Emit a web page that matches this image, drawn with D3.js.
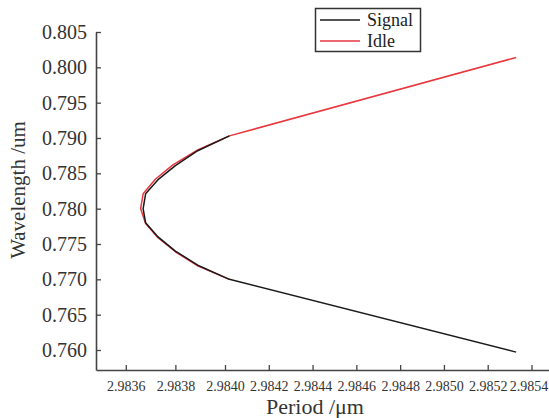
<!DOCTYPE html>
<html>
<head>
<meta charset="utf-8">
<script src="https://cdn.jsdelivr.net/npm/d3@7"></script>
<style>
    body { margin: 0; background: #fff; }
    svg { display: block; }
    svg text { font-family: "Liberation Serif", "Times New Roman", "DejaVu Serif", serif; }
</style>
</head>
<body>
<svg width="549" height="418"></svg>
<script>
// signal branch: [period (um), wavelength (um)]
const signal = [
    [2.98533, 0.7597], [2.98402, 0.7700], [2.98389, 0.7720], [2.98380, 0.7740],
    [2.98373, 0.7760], [2.98368, 0.7780], [2.98367, 0.7800], [2.98368, 0.7821],
    [2.98373, 0.7841], [2.98380, 0.7861], [2.98389, 0.7882], [2.98402, 0.7903]
];
const idle = [
    [2.98533, 0.8014], [2.98402, 0.7903], [2.98389, 0.7883], [2.98379, 0.7862],
    [2.98372, 0.7842], [2.98367, 0.7821], [2.98366, 0.7800], [2.98368, 0.7779],
    [2.98373, 0.7759], [2.98380, 0.7739], [2.98389, 0.7719], [2.98402, 0.7700]
];
const xTicks = [2.9836, 2.9838, 2.9840, 2.9842, 2.9844, 2.9846, 2.9848, 2.9850, 2.9852, 2.9854];
const yTicks = [0.760, 0.765, 0.770, 0.775, 0.780, 0.785, 0.790, 0.795, 0.800, 0.805];
const seriesNames = ['Signal', 'Idle'];
const seriesColors = ['#1a1a1a', '#e8373f'];

const svg = d3.select('svg'),
    axisColor = '#444';

// the source figure's x axis is not evenly spaced, so use a piecewise scale
const x = d3.scaleLinear()
    .domain([2.98348, 2.9840, 2.98548])
    .range([96, 225, 549]);

const y = d3.scaleLinear()
    .domain([0.75717, 0.805])
    .range([370, 32]);

const xAxis = svg.append('g')
    .attr('transform', 'translate(0,370)')
    .call(d3.axisBottom(x).tickValues(xTicks).tickFormat(d3.format('.4f'))
        .tickSizeInner(-5).tickSizeOuter(0).tickPadding(11));

const yAxis = svg.append('g')
    .attr('transform', 'translate(96,0)')
    .call(d3.axisLeft(y).tickValues(yTicks).tickFormat(d3.format('.3f'))
        .tickSizeInner(-5).tickSizeOuter(0).tickPadding(9));

[xAxis, yAxis].forEach(function (g) {
    g.attr('font-family', null);
    g.select('.domain').attr('stroke', axisColor).attr('stroke-width', 1.6);
    g.selectAll('.tick line').attr('stroke', axisColor).attr('stroke-width', 1.3);
    g.selectAll('.tick text').attr('fill', '#333');
});
xAxis.attr('font-size', 14);
yAxis.attr('font-size', 20);
// keep the last period label inside the frame
xAxis.selectAll('.tick text').filter(function (d) { return d === 2.9854; })
    .attr('dx', -3);

svg.append('text')
    .attr('x', 315)
    .attr('y', 414)
    .attr('text-anchor', 'middle')
    .attr('font-size', 22)
    .attr('fill', '#333')
    .text('Period /μm');

svg.append('text')
    .attr('transform', 'translate(25,190) rotate(-90)')
    .attr('text-anchor', 'middle')
    .attr('font-size', 21)
    .attr('fill', '#333')
    .text('Wavelength /um');

const line = d3.line()
    .x(function (d) { return x(d[0]); })
    .y(function (d) { return y(d[1]); });

// idle underneath, signal on top, as in the source figure
[idle, signal].forEach(function (data, i) {
    svg.append('path')
        .datum(data)
        .attr('fill', 'none')
        .attr('stroke', seriesColors[1 - i])
        .attr('stroke-width', 1.5)
        .attr('stroke-linejoin', 'round')
        .attr('d', line);
});

// legend
const legend = svg.append('g');
legend.append('rect')
    .attr('x', 315.5)
    .attr('y', 8.5)
    .attr('width', 105)
    .attr('height', 43)
    .attr('fill', '#fff')
    .attr('stroke', '#333')
    .attr('stroke-width', 1.5);

seriesNames.forEach(function (name, i) {
    const ly = 20 + i * 21;
    legend.append('line')
        .attr('x1', 320)
        .attr('x2', 360)
        .attr('y1', ly)
        .attr('y2', ly)
        .attr('stroke', seriesColors[i])
        .attr('stroke-width', 1.5);
    legend.append('text')
        .attr('x', 367)
        .attr('y', ly + 6)
        .attr('font-size', 18)
        .attr('fill', '#222')
        .text(name);
});
</script>
</body>
</html>
